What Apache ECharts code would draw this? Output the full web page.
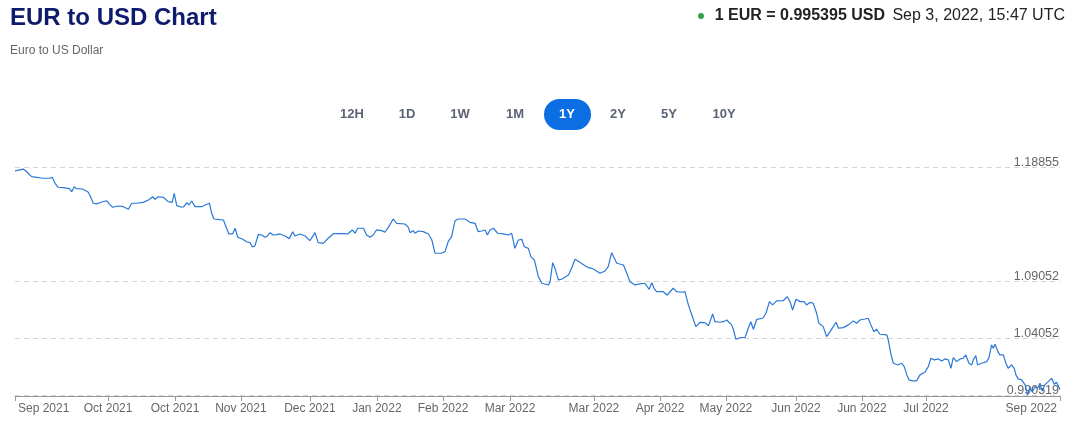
<!DOCTYPE html>
<html><head><meta charset="utf-8">
<script src="https://cdn.jsdelivr.net/npm/echarts@6/dist/echarts.min.js"></script>
<style>html,body{margin:0;padding:0;background:#fff}#c{width:1076px;height:437px}</style>
</head><body><div id="c"></div>
<script>
// days since Sep 3, 2021 (approximate position along the time axis)
const days = [
0,2.9,4.1,5.8,7.6,9.3,12.2,13.0,14.0,15.1,
17.5,19.0,19.8,20.7,21.5,23.6,25.6,26.4,27.3,28.5,
30.3,32.0,32.9,34.1,36.1,37.8,39.6,39.9,40.8,42.5,
44.8,46.6,48.1,48.9,50.1,51.8,53.5,54.9,55.6,56.5,
58.2,59.0,60.0,60.8,61.7,62.9,65.2,67.0,67.9,68.7,
69.5,71.6,72.8,73.9,74.7,76.0,76.9,77.8,79.4,80.9,
82.1,82.9,83.8,85.0,86.2,87.3,88.1,89.1,90.2,91.4,
92.6,94.3,95.8,97.0,97.8,99.5,101.3,103.0,104.8,105.9,
107.7,109.4,111.2,114.1,116.2,117.8,118.8,119.7,121.7,122.8,
124.0,125.1,126.3,128.1,129.2,130.4,132.1,133.3,136.2,137.4,
138.0,139.1,139.7,140.9,142.6,144.4,145.6,146.7,149.0,150.2,
151.3,152.5,153.7,154.8,157.2,158.9,160.7,161.8,163.0,164.2,
165.0,165.9,167.1,168.6,170.6,172.3,173.5,174.6,175.8,177.0,
177.9,179.3,180.2,181.4,182.8,184.0,184.5,186.3,186.9,187.8,
188.6,189.8,190.9,193.3,194.4,195.6,197.3,199.1,200.2,201.4,
202.6,204.3,206.1,207.2,208.4,210.2,212.5,213.7,214.8,216.6,
218.3,220.0,221.5,222.4,223.2,224.1,226.4,227.8,229.9,231.1,
232.9,234.0,235.2,236.4,237.8,239.3,241.0,242.2,243.7,244.5,
246.2,247.4,248.6,250.3,250.9,251.8,253.2,255.0,256.1,257.0,
257.9,259.1,261.2,262.3,263.5,264.6,266.0,268.3,269.7,270.7,
271.6,272.8,274.2,275.6,276.5,277.7,278.8,280.0,280.8,282.3,
283.5,284.7,285.8,286.8,287.6,289.3,291.1,292.8,294.0,295.1,
296.9,298.0,299.2,300.0,300.9,302.1,304.5,305.0,306.0,306.8,
308.3,309.7,310.6,311.5,312.3,313.4,314.9,316.1,317.8,319.0,
319.9,321.1,322.5,323.7,324.8,326.0,326.9,327.7,328.9,330.1,
331.2,332.1,333.2,334.2,334.7,335.6,336.2,337.6,339.4,340.2,
341.1,341.7,342.3,343.3,344.0,345.2,346.1,346.9,348.1,349.0,
349.6,350.4,351.6,352.8,353.7,354.5,355.3,356.3,357.2,358.0,
358.8,359.7,360.9,362.1,363.0,363.8,365.0
];
// EUR/USD rate
const rates = [
1.1869,1.18855,1.1862,1.1819,1.1813,1.1807,1.1805,1.1813,1.1761,1.1726,
1.1720,1.1714,1.1687,1.1731,1.1714,1.1711,1.1682,1.1643,1.1586,1.1580,
1.1597,1.1608,1.1580,1.1551,1.1562,1.1556,1.1533,1.1527,1.1586,1.1586,
1.1594,1.1615,1.1643,1.1621,1.1643,1.1638,1.1600,1.1594,1.1673,1.1565,
1.1551,1.1556,1.1591,1.1571,1.1606,1.1556,1.1556,1.1577,1.1586,1.1498,
1.1448,1.1442,1.1439,1.1367,1.1317,1.1317,1.1367,1.1288,1.1273,1.1249,
1.1241,1.1203,1.1212,1.1314,1.1308,1.1288,1.1297,1.1328,1.1308,1.1311,
1.1317,1.1299,1.1276,1.1337,1.1299,1.1317,1.1299,1.1258,1.1328,1.1241,
1.1235,1.1279,1.1319,1.1319,1.1317,1.1352,1.1323,1.1367,1.1367,1.1308,
1.1288,1.1308,1.1352,1.1346,1.1332,1.1375,1.1448,1.1410,1.1404,1.1375,
1.1328,1.1346,1.1323,1.1343,1.1337,1.1317,1.1264,1.1148,1.1148,1.1162,
1.1249,1.1293,1.1433,1.1448,1.1448,1.1419,1.1410,1.1337,1.1343,1.1352,
1.1308,1.1352,1.1367,1.1323,1.1317,1.1308,1.1323,1.1191,1.1264,1.1270,
1.1205,1.1191,1.1118,1.1089,1.0943,1.0885,1.0870,1.0870,1.0899,1.1065,
1.1016,1.0914,1.0920,1.0958,1.1016,1.1095,1.1069,1.1039,1.1022,1.1016,
1.1001,1.0972,1.0993,1.1030,1.1153,1.1060,1.1045,1.0972,1.0899,1.0870,
1.0879,1.0885,1.0832,1.0890,1.0841,1.0811,1.0811,1.0782,1.0841,1.0811,
1.0806,1.0811,1.0695,1.0607,1.0505,1.0543,1.0540,1.0513,1.0616,1.0548,
1.0543,1.0548,1.0563,1.0520,1.0482,1.0394,1.0408,1.0411,1.0491,1.0548,
1.0482,1.0569,1.0578,1.0622,1.0724,1.0695,1.0730,1.0732,1.0767,1.0724,
1.0651,1.0745,1.0724,1.0724,1.0695,1.0718,1.0710,1.0622,1.0534,1.0505,
1.0417,1.0461,1.0505,1.0543,1.0491,1.0496,1.0520,1.0555,1.0534,1.0563,
1.0572,1.0578,1.0505,1.0461,1.0482,1.0438,1.0432,1.0388,1.0257,1.0184,
1.0169,1.0184,1.0154,1.0082,1.0038,1.0029,1.0029,1.0082,1.0105,1.0154,
1.0228,1.0213,1.0222,1.0204,1.0222,1.0213,1.0140,1.0233,1.0198,1.0222,
1.0228,1.0257,1.0184,1.0169,1.0213,1.0251,1.0169,1.0184,1.0198,1.0233,
1.0344,1.0315,1.0350,1.0286,1.0257,1.0257,1.0184,1.0140,1.0169,1.0140,
1.0082,1.0047,1.0038,0.9994,0.9905,0.9979,0.9935,0.9979,0.9965,1.0009,
0.9941,0.9994,1.0023,1.0053,1.0000,1.0018,0.9954
];
const xTickDays = [0,32.5,55.9,78.9,103.0,126.4,149.5,172.9,202.2,225.3,248.3,272.8,295.8,318.2,365];
const xTickLabels = ['Sep 2021','Oct 2021','Oct 2021','Nov 2021','Dec 2021','Jan 2022','Feb 2022','Mar 2022','Mar 2022','Apr 2022','May 2022','Jun 2022','Jun 2022','Jul 2022','Sep 2022'];
const yGridValues = [0.990519, 1.04052, 1.09052, 1.18855];
const yGridLabels = ['0.990519','1.04052','1.09052','1.18855'];
const rangeButtons = ['12H','1D','1W','1M','1Y','2Y','5Y','10Y'];
const activeRange = '1Y';
const titleText = 'EUR to USD Chart';
const subtitleText = 'Euro to US Dollar';
const quoteText = '1 EUR = 0.995395 USD';
const timeText = 'Sep 3, 2022, 15:47 UTC';

const FONT = '"Liberation Sans", Arial, Helvetica, sans-serif';
const chart = echarts.init(document.getElementById('c'), null, {renderer: 'canvas'});
const n = Math.min(days.length, rates.length);
const seriesData = [];
for (let i = 0; i < n; i++) seriesData.push([days[i], rates[i]]);

const btnX = [352, 407, 460, 515, 567, 618, 669, 724];
const graphics = [
  {type: 'text', x: 10, y: 18, style: {text: titleText, font: 'bold 24px ' + FONT, fill: '#0e1a6b', textVerticalAlign: 'middle'}},
  {type: 'text', x: 10, y: 51, style: {text: subtitleText, font: '12px ' + FONT, fill: '#666', textVerticalAlign: 'middle'}},
  {type: 'circle', shape: {cx: 701, cy: 16, r: 3}, style: {fill: '#2ea44f'}},
  {type: 'text', x: 885, y: 16, style: {text: quoteText, font: 'bold 16px ' + FONT, fill: '#222', textAlign: 'right', textVerticalAlign: 'middle'}},
  {type: 'text', x: 1065, y: 16, style: {text: timeText, font: '16px ' + FONT, fill: '#222', textAlign: 'right', textVerticalAlign: 'middle'}}
];
rangeButtons.forEach((b, i) => {
  const active = b === activeRange;
  if (active) {
    graphics.push({type: 'rect', shape: {x: btnX[i] - 23, y: 99, width: 47, height: 31, r: 15.5}, style: {fill: '#0b6fe3'}});
  }
  graphics.push({type: 'text', x: btnX[i], y: 114.5, style: {text: b, font: 'bold 13px ' + FONT, fill: active ? '#fff' : '#5a6274', textAlign: 'center', textVerticalAlign: 'middle'}});
});

function nearestLabel(v) {
  let best = 0, bd = Infinity;
  xTickDays.forEach((d, i) => { const dd = Math.abs(d - v); if (dd < bd) { bd = dd; best = i; } });
  return xTickLabels[best];
}

chart.setOption({
  animation: false,
  backgroundColor: '#fff',
  graphic: graphics,
  grid: {left: 15, right: 16, top: 156, bottom: 41, containLabel: false},
  xAxis: {
    type: 'value', min: 0, max: 365,
    splitLine: {show: false},
    axisLine: {show: true, lineStyle: {color: '#999', width: 1}},
    axisTick: {show: true, length: 5, lineStyle: {color: '#999'}, customValues: xTickDays},
    axisLabel: {
      customValues: xTickDays,
      formatter: nearestLabel,
      color: '#666', fontSize: 12, fontFamily: FONT, margin: 7,
      padding: [0, 3, 0, 3],
      alignMinLabel: 'left', alignMaxLabel: 'right'
    }
  },
  yAxis: {
    type: 'value', min: 0.9897, max: 1.2, show: false,
    splitLine: {show: false}
  },
  series: [{
    type: 'line',
    data: seriesData,
    showSymbol: false,
    symbol: 'none',
    lineStyle: {color: '#2b79d6', width: 1.2},
    z: 3,
    markLine: {
      silent: true,
      symbol: ['none', 'none'],
      z: 1,
      lineStyle: {color: '#d4d4d4', type: [5, 4], width: 1},
      label: {
        position: 'insideEndTop', distance: [1, -1.5],
        color: '#666', fontSize: 12.5, fontFamily: FONT,
        formatter: '{b}'
      },
      data: yGridValues.map((v, i) => ({yAxis: v, name: yGridLabels[i]}))
    }
  }]
});
</script>
</body></html>
